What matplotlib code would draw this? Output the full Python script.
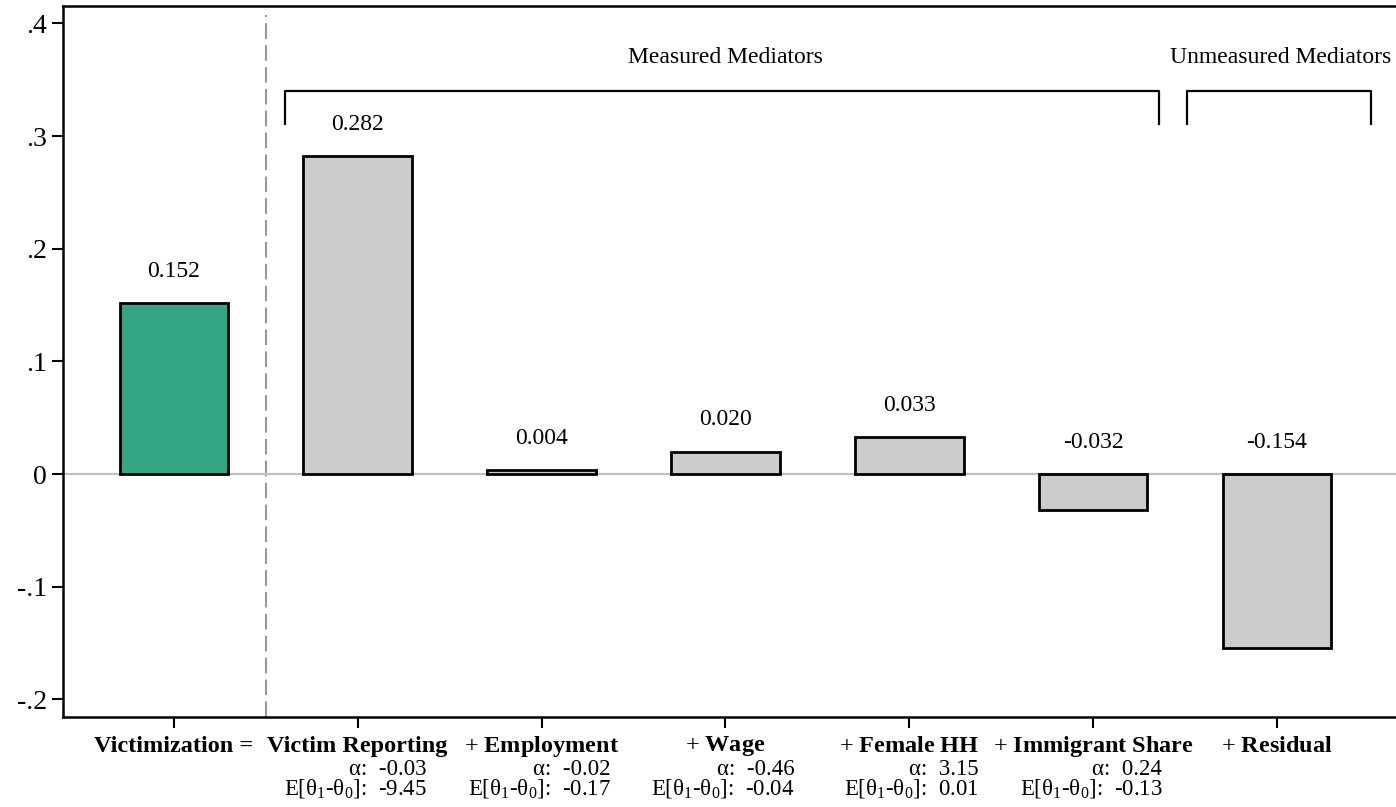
import numpy as np
import matplotlib
matplotlib.use("Agg")
import matplotlib.pyplot as plt
import matplotlib.transforms as mtransforms

plt.rcParams["font.family"] = ["Liberation Serif", "DejaVu Serif"]
plt.rcParams["mathtext.fontset"] = "custom"
plt.rcParams["mathtext.rm"] = "Liberation Serif"
plt.rcParams["mathtext.it"] = "Liberation Serif:italic"
plt.rcParams["mathtext.bf"] = "Liberation Serif:bold"

# decomposition of the victimization effect
labels = ["Victimization =", "Victim Reporting", "+ Employment", "+ Wage",
          "+ Female HH", "+ Immigrant Share", "+ Residual"]
effects = [0.152, 0.282, 0.004, 0.020, 0.033, -0.032, -0.154]
alphas = [None, -0.03, -0.02, -0.46, 3.15, 0.24, None]
theta_diff = [None, -9.45, -0.17, -0.04, 0.01, -0.13, None]

yticks = [-0.2, -0.1, 0, 0.1, 0.2, 0.3, 0.4]
yticklabels = ["-.2", "-.1", "0", ".1", ".2", ".3", ".4"]

green = "#35a683"
grey = "#cccccc"

fig = plt.figure(figsize=(13.96, 8.07), dpi=100)
ax = fig.add_axes([0.0451, 0.1115, 0.9549, 0.8811])

x = np.arange(len(effects))
colors = [green] + [grey] * (len(effects) - 1)
ax.bar(x, effects, width=0.59, color=colors, edgecolor="black", linewidth=2, zorder=3)
ax.axhline(0, color="#c0c0c0", linewidth=1.6, zorder=2)
ax.plot([0.5, 0.5], [-0.2156, 0.407], color="#999999", linewidth=1.5,
        linestyle=(0, (7.5, 3)), zorder=1, clip_on=False)

# value labels above each bar
for xi, v in zip(x, effects):
    ax.text(xi, max(v, 0) + 0.028, f"{v:.3f}", ha="center", va="center", fontsize=17)

# brackets for measured / unmeasured mediators
def bracket(x0, x1, text, tx):
    ax.plot([x0, x0, x1, x1], [0.3107, 0.340, 0.340, 0.3107], color="black", linewidth=1.6)
    ax.text(tx, 0.370, text, ha="center", va="center", fontsize=17)

bracket(0.606, 5.358, "Measured Mediators", 3.0)
bracket(5.51, 6.51, "Unmeasured Mediators", 6.02)

ax.set_xlim(-0.6025, 6.647)
ax.set_ylim(-0.2156, 0.4154)
ax.set_yticks(yticks)
ax.set_yticklabels(yticklabels, fontsize=20)
ax.set_xticks(x)
ax.set_xticklabels([])
ax.tick_params(axis="both", direction="out", length=8, width=1.5, color="black")

ax.spines["right"].set_visible(False)
for s in ["left", "top", "bottom"]:
    ax.spines[s].set_linewidth(1.8)


def bold_label(lab):
    # plain "+" followed by the bold mediator name
    if lab.startswith("+ "):
        name = lab[2:].replace(" ", r"\ ")
        return "+ $\\mathbf{" + name + "}$"
    return lab


# x labels: category, then alpha and E[theta1-theta0] right-aligned
trans = mtransforms.blended_transform_factory(ax.transData, ax.transAxes)
for xi, lab, a, t in zip(x, labels, alphas, theta_diff):
    weight = "normal" if lab.startswith("+ ") else "bold"
    ax.annotate(bold_label(lab), xy=(xi, 0), xycoords=trans, xytext=(0, -21),
                textcoords="offset points", ha="center", va="center", fontsize=17.5,
                fontweight=weight)
    if a is not None:
        ax.annotate(f"α:  {a:.2f}", xy=(xi + 0.376, 0), xycoords=trans, xytext=(0, -37.5),
                    textcoords="offset points", ha="right", va="center", fontsize=16.5)
        ax.annotate(f"E[θ$_1$-θ$_0$]:  {t:.2f}", xy=(xi + 0.376, 0), xycoords=trans,
                    xytext=(0, -51.5), textcoords="offset points", ha="right", va="center",
                    fontsize=16.5)

fig.savefig("out.png", dpi=100)
